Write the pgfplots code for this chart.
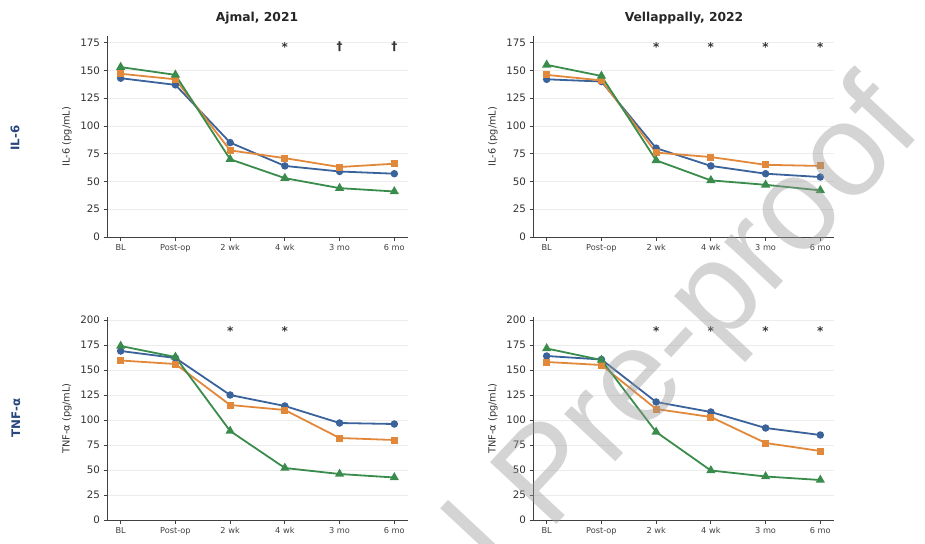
\documentclass[border=0pt]{standalone}
\usepackage{pgfplots}
\pgfplotsset{compat=1.18}
\usepackage{fontspec}
\setmainfont{DejaVu Sans}
\newfontfamily\wmfont{Liberation Sans}
\definecolor{cblue}{RGB}{58,98,155}
\definecolor{corange}{RGB}{226,136,58}
\definecolor{cgreen}{RGB}{58,140,76}
\definecolor{rowblue}{RGB}{40,70,125}
\pgfplotsset{
  panel/.style={
    scale only axis, width=301pt,
    xmin=-0.25, xmax=5.25, ymin=0,
    xtick={0,1,2,3,4,5},
    xticklabels={BL,Post-op,2 wk,4 wk,3 mo,6 mo},
    axis x line*=bottom, axis y line*=left,
    axis line style={-, line width=0.8pt, color=black!75},
    tick align=outside, major tick length=3.5pt,
    tick style={black!75, line width=0.8pt},
    ymajorgrids, grid style={black!7, line width=0.6pt},
    x tick label style={font=\fontsize{8.2}{9}\selectfont, text=black!75},
    y tick label style={font=\fontsize{10.3}{11}\selectfont, text=black!80},
    /pgf/number format/assume math mode=true,
    every axis y label/.style={at={(axis description cs:0,0.5)}, xshift=-40pt, rotate=90, anchor=center, font=\fontsize{9.8}{10}\selectfont, text=black!80},
    clip=false,
  },
  sblue/.style={cblue, line width=1.8pt, mark=*, mark size=2.8pt, mark options={solid, fill=cblue}},
  sorange/.style={corange, line width=1.8pt, mark=square*, mark size=2.6pt, mark options={solid, fill=corange}},
  sgreen/.style={cgreen, line width=1.8pt, mark=triangle*, mark size=3.6pt, mark options={solid, fill=cgreen}},
}
\tikzset{
  star/.style={font=\bfseries\fontsize{12}{12}\selectfont, text=black!80, anchor=base, yshift=-7pt, inner sep=0pt},
  dag/.style={font=\bfseries\fontsize{12}{12}\selectfont, text=black!80, anchor=base, yshift=-4pt, inner sep=0pt},
}
\begin{document}
\begin{tikzpicture}
\path[use as bounding box] (0,0) rectangle (925pt,-543pt);
% titles and row labels
\node[font=\bfseries\fontsize{12.3}{13}\selectfont, text=black!85] at (257pt,-18pt) {Ajmal, 2021};
\node[font=\bfseries\fontsize{12.3}{13}\selectfont, text=black!85] at (684pt,-18pt) {Vellappally, 2022};
\node[rotate=90, font=\bfseries\fontsize{11.8}{12}\selectfont, text=rowblue] at (15pt,-138pt) {IL-6};
\node[rotate=90, font=\bfseries\fontsize{11.8}{12}\selectfont, text=rowblue] at (16pt,-418pt) {TNF-α};

% IL-6, Ajmal
\begin{axis}[panel, at={(107pt,-237pt)}, anchor=south west, height=201pt,
  ymax=181, ytick={0,25,50,75,100,125,150,175}, ylabel={IL-6 (pg/mL)}]
\addplot[sblue] coordinates {(0,143) (1,137) (2,85) (3,64) (4,59) (5,57)};
\addplot[sorange] coordinates {(0,147) (1,142) (2,78) (3,71) (4,63) (5,66)};
\addplot[sgreen] coordinates {(0,153) (1,146) (2,70) (3,53) (4,44) (5,41)};
\node[star] at (axis cs:3,173) {*};
\node[dag] at (axis cs:4,171.5) {†};
\node[dag] at (axis cs:5,171.5) {†};
\end{axis}

% IL-6, Vellappally
\begin{axis}[panel, at={(533pt,-237pt)}, anchor=south west, height=201pt,
  ymax=181, ytick={0,25,50,75,100,125,150,175}, ylabel={IL-6 (pg/mL)}]
\addplot[sblue] coordinates {(0,142) (1,140) (2,80) (3,64) (4,57) (5,54)};
\addplot[sorange] coordinates {(0,146) (1,141) (2,76) (3,72) (4,65) (5,64)};
\addplot[sgreen] coordinates {(0,155) (1,145) (2,69) (3,51) (4,47) (5,42)};
\node[star] at (axis cs:2,173) {*};
\node[star] at (axis cs:3,173) {*};
\node[star] at (axis cs:4,173) {*};
\node[star] at (axis cs:5,173) {*};
\end{axis}

% TNF-a, Ajmal
\begin{axis}[panel, at={(107pt,-520pt)}, anchor=south west, height=203pt,
  ymax=203, ytick={0,25,50,75,100,125,150,175,200}, ylabel={TNF-α (pg/mL)}]
\addplot[sblue] coordinates {(0,169) (1,162) (2,125) (3,114) (4,97) (5,96)};
\addplot[sorange] coordinates {(0,159.5) (1,156) (2,115) (3,110) (4,82) (5,80)};
\addplot[sgreen] coordinates {(0,174) (1,163) (2,89) (3,52) (4,46) (5,42.5)};
\node[star] at (axis cs:2,191.5) {*};
\node[star] at (axis cs:3,191.5) {*};
\end{axis}

% TNF-a, Vellappally
\begin{axis}[panel, at={(533pt,-520pt)}, anchor=south west, height=203pt,
  ymax=203, ytick={0,25,50,75,100,125,150,175,200}, ylabel={TNF-α (pg/mL)}]
\addplot[sblue] coordinates {(0,164) (1,160.5) (2,118) (3,108) (4,92) (5,85)};
\addplot[sorange] coordinates {(0,158) (1,155) (2,111) (3,103) (4,77) (5,69)};
\addplot[sgreen] coordinates {(0,171.5) (1,160) (2,88) (3,49.5) (4,43.5) (5,40)};
\node[star] at (axis cs:2,191.5) {*};
\node[star] at (axis cs:3,191.5) {*};
\node[star] at (axis cs:4,191.5) {*};
\node[star] at (axis cs:5,191.5) {*};
\end{axis}

% watermark
\begin{scope}
\clip (0,0) rectangle (925pt,-543pt);
\node[rotate=47, anchor=base east, inner sep=0pt, text=black!40, opacity=0.42,
  font=\wmfont\fontsize{132}{132}\selectfont] at (925pt,-130pt) {Journal Pre-proof};
\end{scope}
\end{tikzpicture}
\end{document}
